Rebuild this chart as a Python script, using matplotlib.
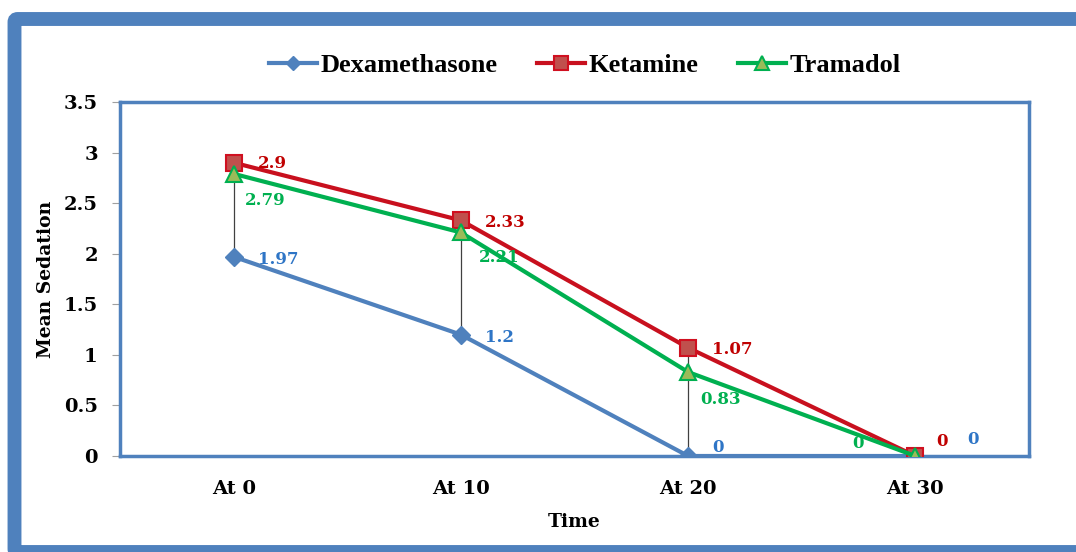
import matplotlib.pyplot as plt
from matplotlib.patches import FancyBboxPatch

# Mean sedation score at each time point
times = ["At 0", "At 10", "At 20", "At 30"]
dexamethasone = [1.97, 1.2, 0, 0]
ketamine = [2.9, 2.33, 1.07, 0]
tramadol = [2.79, 2.21, 0.83, 0]
y_ticks = [0, 0.5, 1, 1.5, 2, 2.5, 3, 3.5]

plt.rcParams['font.family'] = ['DejaVu Serif']
plt.rcParams['font.weight'] = 'bold'

fig = plt.figure(figsize=(10.76, 5.52), dpi=100)

# blue outer frame of the chart area (runs off the right and bottom edges)
frame = FancyBboxPatch((14.5 / 1076, 0.0), 1.2, (552 - 19) / 552,
                       boxstyle="round,pad=0,rounding_size=0.003",
                       mutation_aspect=1076 / 552,
                       transform=fig.transFigure, facecolor='none', edgecolor='#4F81BD',
                       linewidth=10, zorder=0)
fig.patches.append(frame)

ax = fig.add_axes([120 / 1076, 96 / 552, 909 / 1076, 354 / 552])
ax.set_facecolor('none')

x = [i + 0.5 for i in range(len(times))]

# high-low lines between the series at each time point
lows = [min(v) for v in zip(dexamethasone, ketamine, tramadol)]
highs = [max(v) for v in zip(dexamethasone, ketamine, tramadol)]
ax.vlines(x, lows, highs, color='#404040', linewidth=0.9, zorder=1)

ax.plot(x, dexamethasone, color='#4F81BD', linewidth=3, marker='D', markersize=9,
        markerfacecolor='#4F81BD', markeredgecolor='#4F81BD', label='Dexamethasone', zorder=3)
ax.plot(x, ketamine, color='#C8101E', linewidth=3, marker='s', markersize=12,
        markerfacecolor='#C0504D', markeredgecolor='#D01020', markeredgewidth=1.5,
        label='Ketamine', zorder=4)
ax.plot(x, tramadol, color='#00B050', linewidth=3, marker='^', markersize=12,
        markerfacecolor='#9BBB59', markeredgecolor='#00B050', markeredgewidth=1.5,
        label='Tramadol', zorder=5)

# data labels, offsets in pixels (dx, dy, horizontal alignment)
dex_off = [(24, -3, 'left'), (24, -3, 'left'), (24, 9, 'left'), (52, 16, 'left')]
ket_off = [(24, -1, 'left'), (24, -2, 'left'), (24, -2, 'left'), (21, 14, 'left')]
tra_off = [(11, -27, 'left'), (18, -25, 'left'), (12, -27, 'left'), (-52, 12, 'right')]

for vals, offs, col in [(dexamethasone, dex_off, '#2E75C6'),
                        (ketamine, ket_off, '#C00000'),
                        (tramadol, tra_off, '#00B050')]:
    for xi, v, (dx, dy, ha) in zip(x, vals, offs):
        ax.annotate(f"{v:g}", (xi, v), xytext=(dx, dy), textcoords='offset pixels',
                    ha=ha, va='center', color=col, fontsize=12, fontweight='bold', zorder=6)

ax.set_xlim(0, 4)
ax.set_ylim(0, 3.5)
ax.set_xticks(x)
ax.set_xticklabels(times)
ax.set_yticks(y_ticks)
ax.set_yticklabels([f"{t:g}" for t in y_ticks])
ax.tick_params(axis='x', length=0, pad=17, labelsize=14)
ax.tick_params(axis='y', length=6, color='#A0A0A0', pad=10, labelsize=14)

for s in ax.spines.values():
    s.set_color('#4F81BD')
    s.set_linewidth(2.5)

ax.set_xlabel("Time", fontsize=13.5, fontweight='bold', labelpad=11)
ax.set_ylabel("Mean Sedation", fontsize=13.5, fontweight='bold', labelpad=6)

fig.legend(loc='center', bbox_to_anchor=(585 / 1076, 1 - 65 / 552), ncol=3, frameon=False,
           handlelength=1.8, columnspacing=1.5, handletextpad=0.15, markerscale=0.8,
           prop={'family': 'Liberation Serif', 'weight': 'bold', 'size': 19})

fig.savefig("out.png", dpi=100)
plt.close(fig)
